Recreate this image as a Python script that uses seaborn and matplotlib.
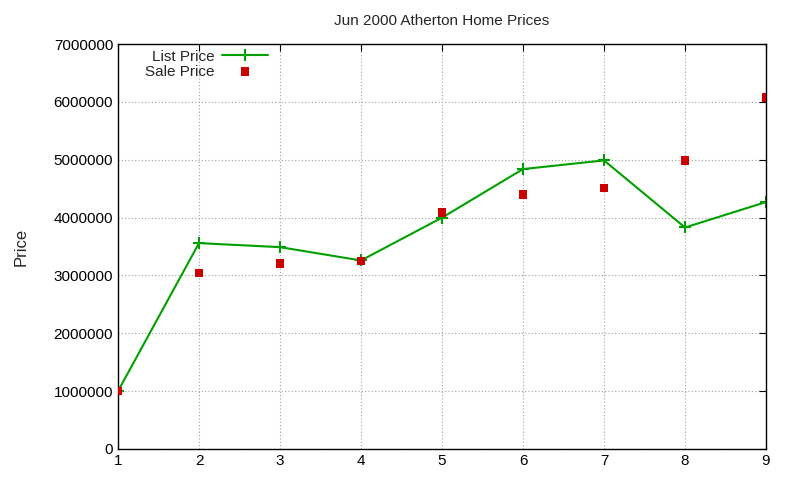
import matplotlib
matplotlib.use("Agg")
import matplotlib.pyplot as plt
import seaborn as sns
import pandas as pd

# data
homes = [1, 2, 3, 4, 5, 6, 7, 8, 9]
list_price = [1000000, 3560000, 3490000, 3260000, 4000000, 4840000, 4990000, 3830000, 4270000]
sale_price = [1000000, 3040000, 3210000, 3250000, 4090000, 4400000, 4510000, 4990000, 6080000]

sns.set_style("white")
plt.rcParams['font.family'] = ['Liberation Sans', 'DejaVu Sans']

df = pd.DataFrame({"home": homes, "list": list_price, "sale": sale_price})

fig = plt.figure(figsize=(8, 4.8), dpi=100)
ax = fig.add_axes([0.1475, 0.0646, 0.81, 0.8434])

sns.lineplot(data=df, x="home", y="list", ax=ax, color="#00a000", linewidth=1.5,
             marker="+", markersize=8, markeredgewidth=1.5,
             markeredgecolor="#00a000", label="List Price")
sns.scatterplot(data=df, x="home", y="sale", ax=ax, color="#cc0000", marker="s",
                s=36, edgecolor="none", label="Sale Price", zorder=3)

ax.set_xlim(1, 9)
ax.set_ylim(0, 7000000)
ax.set_xticks(range(1, 10))
ax.set_yticks(range(0, 7000001, 1000000))
ax.ticklabel_format(axis="y", style="plain", useOffset=False)
ax.grid(True, color="#a0a0a0", linestyle=(0, (1, 2)), linewidth=0.8)
ax.tick_params(direction="in", top=True, right=True, length=5, labelsize=11, colors="black")
for s in ax.spines.values():
    s.set_color("black")
    s.set_linewidth(1)
ax.set_xlabel("")
ax.set_ylabel("Price", fontsize=12, labelpad=18)
ax.set_title("Jun 2000 Atherton Home Prices", fontsize=11, pad=14)

leg = ax.legend(loc="upper left", bbox_to_anchor=(0.02, 1.02), frameon=False,
                markerfirst=False, fontsize=11, handlelength=3,
                handletextpad=0.5, labelspacing=0.05)
for t in leg.get_texts():
    t.set_ha("right")
leg._legend_box.align = "right"

fig.savefig("out.png", dpi=100)
